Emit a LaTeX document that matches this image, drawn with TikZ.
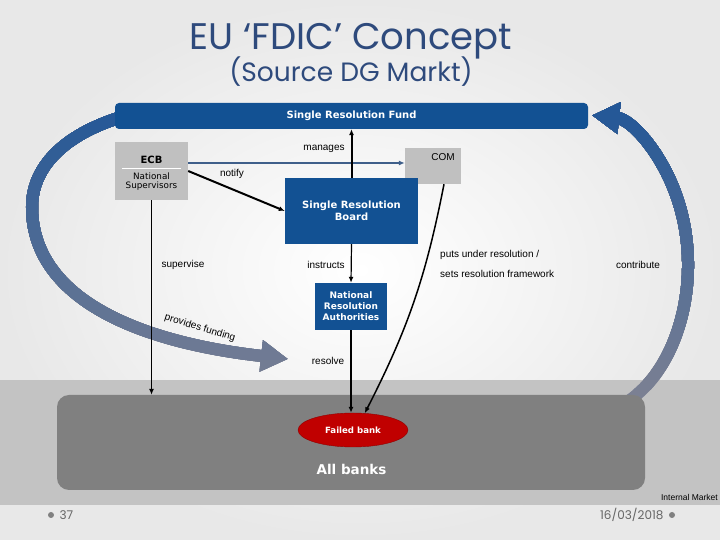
\documentclass[tikz,border=0pt]{standalone}
\usepackage{fontspec}
\setmainfont{Liberation Sans}
\newfontfamily\verdana{DejaVu Sans}
\newfontfamily\gothic{Poppins}
\usetikzlibrary{arrows.meta,shapes.geometric}

\definecolor{srfblue}{HTML}{125193}
\definecolor{titleblue}{HTML}{2E4A7C}
\definecolor{boxgrey}{HTML}{C0C0C0}
\definecolor{bandgrey}{HTML}{C3C3C3}
\definecolor{bankgrey}{HTML}{808080}
\definecolor{failred}{HTML}{C00000}
\definecolor{arrowblue}{HTML}{1F5597}
\definecolor{arrowgrey}{HTML}{7B8093}
\definecolor{linkblue}{HTML}{3F5F8A}

\tikzset{
  bluebox/.style={fill=srfblue, text=white, align=center, inner sep=0pt,
    font=\verdana\bfseries\fontsize{10}{12}\selectfont},
  greybox/.style={fill=boxgrey, inner sep=0pt},
  lbl/.style={font=\fontsize{10}{11}\selectfont, inner sep=0pt},
  flow/.style={-{Latex[length=6pt,width=5pt]}, line width=1.5pt},
}

% the two wide funding arrows, in one colour
\newcommand\fundarrows[1]{%
  \draw[line width=12pt, color=#1, -{Triangle[length=27pt,width=30pt]}]
    (125,424) .. controls (60,405) and (32,370) .. (32,333)
    .. controls (32,250) and (120,200) .. (288,181);
  \draw[line width=12pt, color=#1, -{Triangle[length=27pt,width=30pt]}]
    (585,275) ++(-68:103 and 150)
    arc[start angle=-68, end angle=86, x radius=103, y radius=150];
}

\begin{document}
\begin{tikzpicture}[x=1pt,y=1pt]
	% background
	\shade[inner color=white, outer color=black!9] (0,0) rectangle (720,540);
	\fill[bandgrey] (0,35) rectangle (720,160);

	% funding arrows, grey at the bottom and blue at the top
	\fundarrows{arrowgrey}
	\foreach \i in {1,...,30} {
		\pgfmathsetmacro\p{100*\i/30}
		\begin{scope}
			\clip (0,{140+10*\i}) rectangle (720,540);
			\fundarrows{arrowblue!\p!arrowgrey}
		\end{scope}
	}

	% all banks
	\fill[bankgrey, rounded corners=12] (57,50) rectangle (645,145);
	\path (351,97.5) node[minimum width=588, minimum height=95] (allbanks) {};
	\node[text=white, font=\verdana\bfseries\fontsize{13.5}{15}\selectfont] (alltxt) at (351.5,71) {All banks};
	\node[ellipse, fill=failred, draw=failred!75!black, minimum width=110, minimum height=34, inner sep=0pt,
		text=white, font=\verdana\bfseries\fontsize{8.6}{10}\selectfont] (failed) at (353,110) {Failed bank};

	% title
	\node[anchor=base, text=titleblue, font=\gothic\fontsize{37}{42}\selectfont] (title) at (351,490) {EU ‘FDIC’ Concept};
	\node[anchor=base, text=titleblue, font=\gothic\fontsize{26.5}{30}\selectfont] (subtitle) at (351,458) {(Source DG Markt)};

	% boxes
	\node[bluebox, minimum width=473, minimum height=26, rounded corners=4] (srf) at (351.5,424) {Single Resolution Fund};
	\node[greybox, minimum width=73, minimum height=58] (ecb) at (151.5,369) {};
	\node[font=\verdana\bfseries\fontsize{10}{11}\selectfont] (ecbtxt) at (151.5,380) {ECB};
	\draw[white, line width=0.8pt] (122,372) -- (181,372);
	\node[font=\verdana\fontsize{8.8}{9}\selectfont, align=center] (natsup) at (151.5,358.5) {National\\Supervisors};
	\node[greybox, minimum width=56, minimum height=36] (com) at (433,374) {};
	\node[lbl] (comtxt) at (443,383) {COM};
	\node[bluebox, minimum width=133, minimum height=66] (srb) at (351.5,329) {Single Resolution\\Board};
	\node[bluebox, minimum width=72, minimum height=47, font=\verdana\bfseries\fontsize{9}{11}\selectfont]
		(nra) at (351,233.5) {National\\Resolution\\Authorities};

	% connectors
	\draw[flow, color=linkblue, line width=1.2pt] ([yshift=8pt]ecb.east) -- ([yshift=8pt]ecb.east -| com.west);
	\draw[flow, line width=2pt] (ecb.east) -- (srb.west);
	\draw[flow, line width=2pt] (srb.north) -- (srf.south);
	\draw[flow, line width=1.2pt] (srb.south) -- (nra.north);
	\draw[flow] (nra.south) -- (nra.south |- failed.north);
	\draw[flow] (ecb.south) -- (ecb.south |- allbanks.north);
	\draw[flow] ([xshift=11pt]com.south) to[bend left=8] (failed.55);

	% labels
	\node[lbl] (manages) at (324,391) {manages};
	\node[lbl] (notify) at (232,366) {notify};
	\node[lbl] (supervise) at (183,275) {supervise};
	\node[lbl] (instructs) at (326,275) {instructs};
	\node[lbl] (resolve) at (328,179) {resolve};
	\node[lbl, anchor=west] (puts) at (440,285) {puts under resolution /};
	\node[lbl, anchor=west] (sets) at (440,266) {sets resolution framework};
	\node[lbl] (contribute) at (638,275) {contribute};
	\node[lbl, rotate=-17] (funding) at (200,212) {provides funding};

	% footer
	\node[lbl, anchor=east, font=\fontsize{8.5}{9}\selectfont] (market) at (718,43) {Internal Market};
	\fill[gray] (51,25) circle[radius=3];
	\fill[gray] (672,25) circle[radius=3];
	\node[anchor=west, text=gray!80!black, font=\gothic\fontsize{12}{14}\selectfont] (page) at (56,25) {37};
	\node[anchor=east, text=gray!80!black, font=\gothic\fontsize{12}{14}\selectfont] (date) at (667,25) {16/03/2018};
\end{tikzpicture}
\end{document}
